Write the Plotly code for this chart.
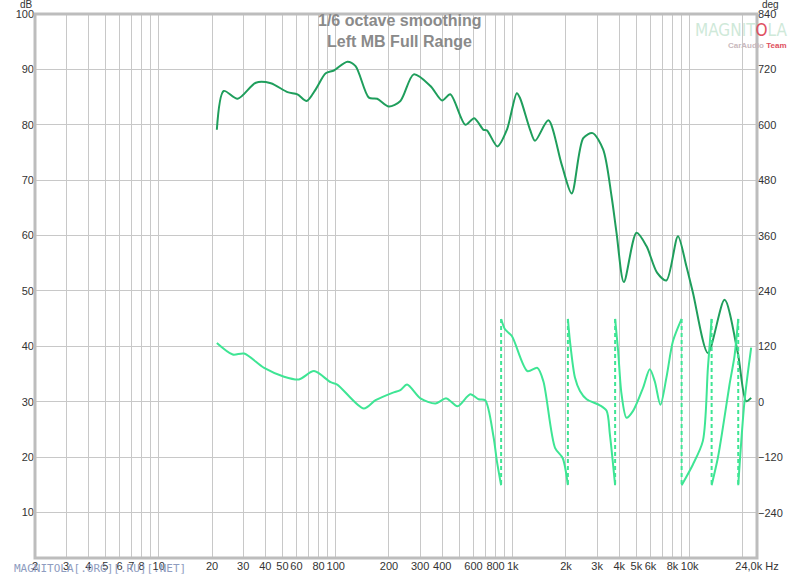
import math
import plotly.graph_objects as go

# ---------------- data ----------------
mag_freq = [21.3, 23.3, 27.9, 35.4, 43.0, 53.4, 60.8, 68.6, 77.1, 87.8, 97.7, 116.3, 129.5,
            153.9, 171.6, 199.5, 232, 276, 343, 399, 444, 540, 606, 684, 715, 820, 927,
            1055, 1101, 1254, 1338, 1590, 1892, 2154, 2504, 2828, 3246, 3618, 3860, 4246,
            5006, 5698, 6539, 7386, 8583, 9570, 10430, 12670, 15740, 18700, 20850, 22250]
mag_db = [79.1, 86.1, 84.7, 87.6, 87.5, 85.9, 85.5, 84.3, 86.4, 89.3, 89.8, 91.4, 90.6,
          84.9, 84.7, 83.3, 84.3, 89.1, 87.0, 84.4, 85.5, 80.0, 81.2, 79.1, 79.0, 76.1, 79.1,
          85.7, 84.8, 79.1, 77.1, 80.8, 72.8, 67.6, 77.6, 78.5, 75.5, 67.1, 60.5, 51.6,
          60.5, 58.1, 53.3, 51.9, 59.9, 54.5, 49.7, 38.8, 48.4, 38.8, 30.1, 30.7]

phase_freq = [21.3, 26.2, 30.4, 39.4, 51.1, 62.0, 75.4, 93.6, 102, 144, 168, 209, 232, 253,
              301, 366, 422, 488, 576, 641, 699, 779, 814, 860, None,
              860, 907, 989, 1211, 1378, 1490, 1734, 1915, 2050, None,
              2050, 2106, 2247, 2398, 2616, 3108, 3392, 3540, 3790, None,
              3790, 3942, 4120, 4396, 4788, 5453, 5948, 6346, 6833, 7386, 8046, 9000, None,
              9000, 10430, 11870, 12670, 13300, None,
              13300, 14420, 15390, 16790, 17920, 18800, None,
              18800, 20400, 22250]
phase_deg = [128, 103, 105, 74, 55, 49, 67, 43, 38, -14, 4, 20, 26, 38,
             8, -3, 8, -9, 17, 6, 4, -75, -128, -180, None,
             180, 157, 143, 67, 74, 45, -99, -121, -180, None,
             180, 132, 53, 24, 6, -7, -19, -70, -180, None,
             180, 110, 17, -34, -19, 31, 71, 45, -6, 53, 132, 180, None,
             -180, -135, -84, 74, 180, None,
             -180, -121, -56, 38, 100, 180, None,
             -180, 2, 118]

wrap_freqs = [860, 2050, 3790, 9000, 13300, 18800]

x_grid = [2, 3, 4, 5, 6, 7, 8, 9, 10, 20, 30, 40, 50, 60, 70, 80, 90, 100,
          200, 300, 400, 500, 600, 700, 800, 900, 1000,
          2000, 3000, 4000, 5000, 6000, 7000, 8000, 9000, 10000, 20000, 24000]
x_labels = ["2", "3", "4", "5", "6", "7", "8", "", "10", "20", "30", "40", "50", "60", "", "80", "", "100",
            "200", "300", "400", "", "600", "", "800", "", "1k",
            "2k", "3k", "4k", "5k", "6k", "", "8k", "", "10k", "", "24,0k Hz"]
db_ticks = [10, 20, 30, 40, 50, 60, 70, 80, 90, 100]
deg_ticks = [-240, -120, 0, 120, 240, 360, 480, 600, 720, 840]

MAG_COLOR = "#1f9e5c"
PH_COLOR = "#3ee594"
FONT = "Liberation Sans, Arial, sans-serif"

# ---------------- figure ----------------
fig = go.Figure()

wx, wy = [], []
for f in wrap_freqs:
    wx += [f, f, None]
    wy += [180, -180, None]

fig.add_trace(go.Scatter(x=wx, y=wy, yaxis="y2", mode="lines",
                         line=dict(color=PH_COLOR, width=2, dash="4px,3px"),
                         hoverinfo="skip", showlegend=False))
fig.add_trace(go.Scatter(x=phase_freq, y=phase_deg, yaxis="y2", mode="lines",
                         line=dict(color=PH_COLOR, width=2, shape="spline", smoothing=0.8),
                         connectgaps=False, showlegend=False))
fig.add_trace(go.Scatter(x=mag_freq, y=mag_db, mode="lines",
                         line=dict(color=MAG_COLOR, width=2, shape="spline", smoothing=0.8),
                         showlegend=False))

# page geometry (body margin removed by post_script)
PL, PT, PR, PB = 35, 14, 757, 558
W, H = 800, 576
pw, ph = PR - PL, PB - PT


def px(xpage):
    return (xpage - PL) / pw


def py(ypage):
    return (PB - ypage) / ph


fig.update_layout(
    width=W, height=H,
    margin=dict(l=PL, r=W - PR, t=PT, b=H - PB, pad=0, autoexpand=False),
    paper_bgcolor="white", plot_bgcolor="white",
    font=dict(family=FONT, size=11, color="#333333"),
    xaxis=dict(type="log", range=[math.log10(2), math.log10(24000)],
               tickmode="array", tickvals=x_grid, ticktext=x_labels, tickangle=0,
               showgrid=True, gridcolor="#c8c8c8", gridwidth=1,
               zeroline=False, ticks="", showline=False, automargin=False,
               ticklabeloverflow="allow",
               tickfont=dict(size=11, color="#333333")),
    yaxis=dict(range=[1.8, 100], tickmode="array", tickvals=db_ticks,
               showgrid=True, gridcolor="#c8c8c8", gridwidth=1,
               zeroline=False, ticks="", showline=False, automargin=False,
               ticklabeloverflow="allow",
               tickfont=dict(size=11, color="#333333")),
    yaxis2=dict(range=[-337.5, 840], overlaying="y", side="right",
                tickmode="array", tickvals=deg_ticks, automargin=False,
                showgrid=False, zeroline=False, ticks="", showline=False,
                ticklabeloverflow="allow",
                tickfont=dict(size=11, color="#333333")),
    hovermode=False,
)

# frame
fig.add_shape(type="rect", xref="paper", yref="paper", x0=0, x1=1, y0=0, y1=1,
              line=dict(color="#bdbdbd", width=3), layer="above")

annos = [
    dict(text="<b>1/6 octave smoothing</b>", x=px(400), y=py(21), font=dict(size=16, color="#8a8a8a")),
    dict(text="<b>Left MB Full Range</b>", x=px(400), y=py(41), font=dict(size=16, color="#8a8a8a")),
    dict(text="dB", x=px(26), y=py(5), font=dict(size=10, color="#333333")),
    dict(text="deg", x=px(770), y=py(5), font=dict(size=10, color="#333333")),
    dict(text='<span style="color:#cfe9d9">MAGNIT</span><span style="color:#e05060">O</span>'
              '<span style="color:#cfe9d9">LA</span>',
         x=px(741), y=py(30), font=dict(size=17, family="Liberation Sans Narrow, DejaVu Sans Condensed, sans-serif")),
    dict(text='<b><span style="color:#c9b9bd">CarAudio</span> <span style="color:#e05060">Team</span></b>',
         x=px(757), y=py(45), font=dict(size=8)),
    dict(text="MAGNITOLA[.ORG][.RU][.NET]", x=px(12), y=py(568), xanchor="left",
         font=dict(size=11, color="#8e9cc0", family="DejaVu Sans Mono, monospace")),
]
for a in annos:
    a.setdefault("xanchor", "center")
    fig.add_annotation(xref="paper", yref="paper", showarrow=False, yanchor="middle", **a)

fig.write_html("out.html", config={"displayModeBar": False},
               post_script="document.body.style.margin='0';document.body.style.overflow='hidden';")
